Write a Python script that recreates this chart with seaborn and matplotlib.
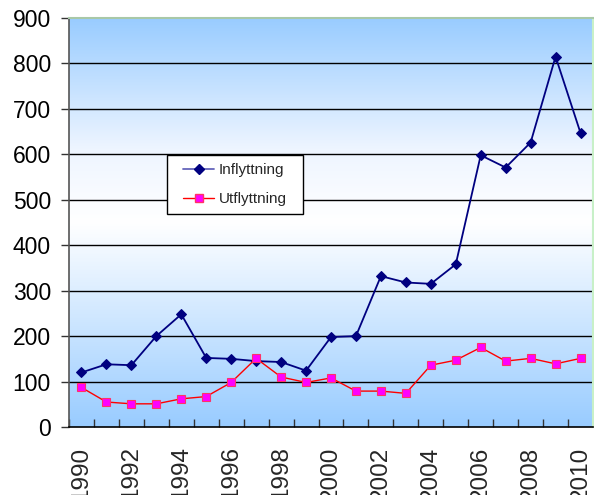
import numpy as np
import pandas as pd
import matplotlib
matplotlib.use("Agg")
import matplotlib.pyplot as plt
from matplotlib.colors import LinearSegmentedColormap
from matplotlib.patches import Rectangle
import seaborn as sns

years = list(range(1990, 2011))
inflyttning = [120, 138, 136, 200, 248, 152, 150, 145, 143, 124, 198, 200,
               332, 318, 315, 358, 598, 571, 626, 815, 647]
utflyttning = [87, 55, 51, 51, 62, 67, 98, 151, 110, 98, 108, 79,
               79, 74, 136, 147, 175, 145, 151, 139, 151]
series_names = ["Inflyttning", "Utflyttning"]
y_ticks = list(range(0, 1000, 100))
x_labels = [str(y) for y in years[::2]]

df = pd.DataFrame({
    "År": years * 2,
    "Antal": inflyttning + utflyttning,
    "Serie": [series_names[0]] * len(years) + [series_names[1]] * len(years),
})

sns.set_theme(style="white")
plt.rcParams["font.family"] = ["Liberation Sans", "DejaVu Sans"]

fig = plt.figure(figsize=(5.94, 4.95), dpi=100)
ax = fig.add_axes([69 / 594, 1 - 427 / 495, 524 / 594, 409 / 495])

# vertical blue-white-blue background gradient
bg = LinearSegmentedColormap.from_list(
    "bg", [(0.0, "#99CCFF"), (0.5, "#FFFFFF"), (0.68, "#EEF5FF"), (1.0, "#99CCFF")])
grad = np.linspace(0, 1, 256).reshape(-1, 1)
ax.imshow(grad, cmap=bg, aspect="auto", extent=[0, 1, 0, 1],
          transform=ax.transAxes, origin="lower", zorder=0)

palette = {"Inflyttning": "#000080", "Utflyttning": "#FF0000"}
sns.lineplot(data=df, x="År", y="Antal", hue="Serie", style="Serie",
             palette=palette, markers={"Inflyttning": "D", "Utflyttning": "s"},
             dashes=False, ax=ax, legend=False, zorder=3)
lines = ax.get_lines()
lines[0].set_linewidth(1.3)
lines[0].set_markersize(5.5)
lines[0].set_markerfacecolor("#000080")
lines[0].set_markeredgecolor("#000080")
lines[1].set_linewidth(1.0)
lines[1].set_markersize(5.5)
lines[1].set_markerfacecolor("#FF00FF")
lines[1].set_markeredgecolor("#FF3366")
lines[1].set_markeredgewidth(0.8)

ax.set_xlim(years[0] - 0.5, years[-1] + 0.5)
ax.set_ylim(0, 900)
ax.set_yticks(y_ticks)
ax.set_yticklabels([str(v) for v in y_ticks], fontsize=16.5, color="black")
ax.set_xticks(years[::2])
ax.set_xticklabels(x_labels, rotation=90, fontsize=17.5, va="top", ha="center")
ax.set_xticks(np.arange(years[0] - 0.5, years[-1] + 1.0, 1.0), minor=True)
ax.tick_params(axis="x", which="major", length=0, pad=14)
ax.tick_params(axis="x", which="minor", direction="in", length=6, width=1,
               color="#333333", bottom=True)
ax.tick_params(axis="y", direction="out", length=6, width=1, color="#333333",
               left=True, pad=7)
ax.set_xlabel("")
ax.set_ylabel("")

ax.grid(False)
for v in y_ticks[1:-1]:
    ax.axhline(v, color="black", linewidth=1.0, zorder=1)

ax.spines["left"].set_color("#555555")
ax.spines["left"].set_linewidth(1.2)
ax.spines["bottom"].set_color("black")
ax.spines["bottom"].set_linewidth(1.2)
ax.spines["top"].set_color("#A8C8A8")
ax.spines["top"].set_linewidth(1.5)
ax.spines["right"].set_color("#C8F0C8")
ax.spines["right"].set_linewidth(1.5)

handles = [
    plt.Line2D([], [], color="#6666BB", linewidth=1.3, marker="D",
               markersize=5, markerfacecolor="#000080", markeredgecolor="#000080"),
    plt.Line2D([], [], color="#FF0000", linewidth=1.0, marker="s",
               markersize=5.5, markerfacecolor="#FF00FF", markeredgecolor="#FF3366"),
]
leg = ax.legend(handles, series_names, loc="upper left",
                bbox_to_anchor=((175 - 69) / 524, (427 - 155) / 409),
                frameon=False, fontsize=11, handlelength=2.0,
                borderpad=0.55, labelspacing=0.95, handletextpad=0.3,
                borderaxespad=0)
leg.set_zorder(5)

# legend frame, widened horizontally around the legend contents
fig.canvas.draw()
bb = leg.get_window_extent().transformed(ax.transAxes.inverted())
padx = 8 / 524
ax.add_patch(Rectangle((bb.x0 - padx, bb.y0), bb.width + 2 * padx, bb.height,
                       transform=ax.transAxes, facecolor="white",
                       edgecolor="black", linewidth=1.0, zorder=4))

fig.savefig("out.png", dpi=100)
